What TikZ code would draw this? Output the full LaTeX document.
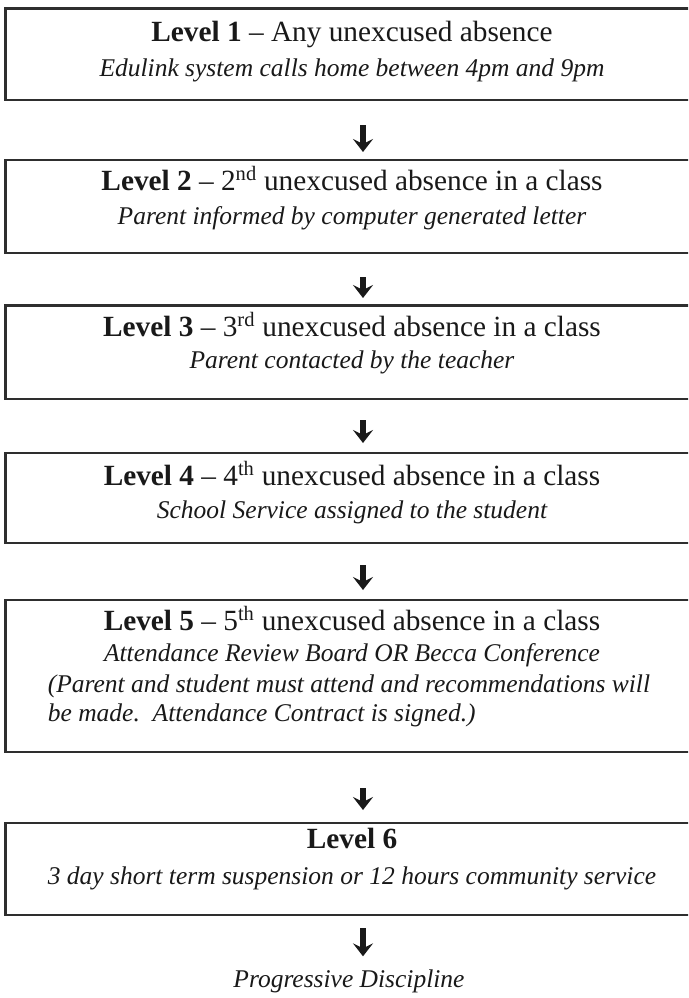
\documentclass[tikz,border=0pt]{standalone}
\usepackage{fontspec}
\setmainfont{Liberation Serif}
\usetikzlibrary{arrows.meta}
\newcommand\rmsz{\fontsize{29.3}{31}\selectfont}
\newcommand\itsz{\fontsize{25.5}{28}\selectfont\itshape}
\begin{document}
\begin{tikzpicture}[x=1pt,y=-1pt,
  lvbox/.style={draw=black!82,line width=2.4pt,outer sep=0pt,inner sep=0pt,anchor=north west,minimum width=700pt},
  txt/.style={inner sep=0pt,outer sep=0pt,anchor=base,text=black!90},
  downarr/.style={-{Stealth[length=13pt,width=20pt,inset=5pt]},line width=6pt,draw=black!90}]
\useasboundingbox (0,0) rectangle (688,998);
\clip (0,0) rectangle (688,998);
\fill[white] (0,0) rectangle (688,998);

% boxes
\node[lvbox,minimum height=91.5pt] (b1) at (5.5,8.5) {};
\node[lvbox,minimum height=93pt] (b2) at (5.5,160) {};
\node[lvbox,minimum height=93.5pt] (b3) at (5.5,305.5) {};
\node[lvbox,minimum height=90pt] (b4) at (5.5,453) {};
\node[lvbox,minimum height=152pt] (b5) at (5.5,600) {};
\node[lvbox,minimum height=92pt] (b6) at (5.5,823) {};

% texts
\node[txt] (t1a) at (352,42) {\rmsz\textbf{Level 1} – Any unexcused absence};
\node[txt] (t1b) at (352,77) {\itsz Edulink system calls home between 4pm and 9pm};

\node[txt] (t2a) at (352,190) {\rmsz\textbf{Level 2} – 2\textsuperscript{nd} unexcused absence in a class};
\node[txt] (t2b) at (352,224) {\itsz Parent informed by computer generated letter};

\node[txt] (t3a) at (352,336) {\rmsz\textbf{Level 3} – 3\textsuperscript{rd} unexcused absence in a class};
\node[txt] (t3b) at (352,368) {\itsz Parent contacted by the teacher};

\node[txt] (t4a) at (352,485) {\rmsz\textbf{Level 4} – 4\textsuperscript{th} unexcused absence in a class};
\node[txt] (t4b) at (352,518) {\itsz School Service assigned to the student};

\node[txt] (t5a) at (352,630) {\rmsz\textbf{Level 5} – 5\textsuperscript{th} unexcused absence in a class};
\node[txt] (t5b) at (352,661) {\itsz Attendance Review Board OR Becca Conference};
\node[txt] (t5c) at (349,692) {\itsz (Parent and student must attend and recommendations will};
\node[txt,anchor=base west] (t5d) at ([yshift=-29pt]t5c.base west) {\itsz be made.\ \ Attendance Contract is signed.)};

\node[txt] (t6a) at (352,848) {\rmsz\textbf{Level 6}};
\node[txt] (t6b) at (352,884) {\itsz 3 day short term suspension or 12 hours community service};

\node[txt] (pd) at (349,987) {\itsz Progressive Discipline};

% arrows
\draw[downarr] ([xshift=7.5pt,yshift=-25pt]b1.south) -- ([xshift=7.5pt,yshift=8pt]b2.north);
\draw[downarr] ([xshift=7.5pt,yshift=-24pt]b2.south) -- ([xshift=7.5pt,yshift=7.5pt]b3.north);
\draw[downarr] ([xshift=7.5pt,yshift=-21pt]b3.south) -- ([xshift=7.5pt,yshift=10pt]b4.north);
\draw[downarr] ([xshift=7.5pt,yshift=-22pt]b4.south) -- ([xshift=7.5pt,yshift=10pt]b5.north);
\draw[downarr] ([xshift=7.5pt,yshift=-36pt]b5.south) -- ([xshift=7.5pt,yshift=13pt]b6.north);
\draw[downarr] ([xshift=7.5pt,yshift=-13pt]b6.south) -- ([xshift=7.5pt,yshift=13pt]b6.south |- pd.north);
\end{tikzpicture}
\end{document}
